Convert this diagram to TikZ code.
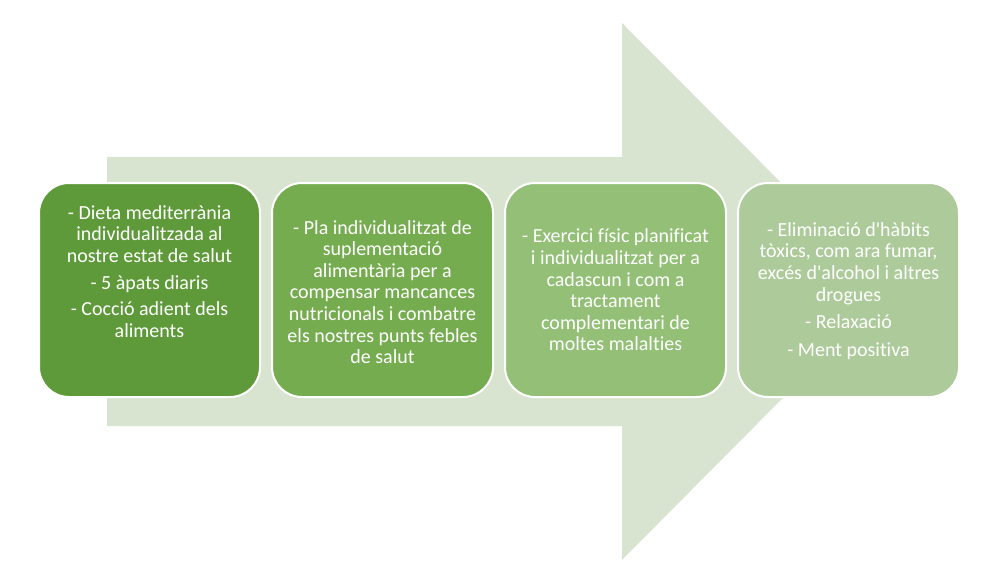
\documentclass[tikz,border=0pt]{standalone}
\usepackage{fontspec}
\setmainfont{Carlito}[Ligatures=NoCommon]
\usepackage{xcolor}
\usepackage{tikz}
\usetikzlibrary{positioning}
\definecolor{arrowbg}{HTML}{D8E4CF}
\definecolor{stepA}{HTML}{5F9A3A}
\definecolor{stepB}{HTML}{76AC50}
\definecolor{stepC}{HTML}{93BF77}
\definecolor{stepD}{HTML}{ADCB9A}
\tikzset{
  StepBox/.style={
    draw=white, line width=2pt,
    rounded corners=30pt,
    minimum width=221pt, minimum height=214pt,
    inner sep=0pt
  },
  StepText/.style={
    text=white, align=center,
    font=\fontsize{20}{21.6}\selectfont
  }
}

\begin{document}
\begin{tikzpicture}[x=1pt, y=-1pt, line join=round]
  \useasboundingbox (0,0) rectangle (1000,580);

  % big arrow behind the steps
  \fill[arrowbg] (107,157) -- (622,157) -- (622,23) -- (889,291)
    -- (622,560) -- (622,426) -- (107,426) -- cycle;

  % step boxes
  \node[StepBox, fill=stepA] (b1) at (149.5,290) {};
  \node[StepBox, fill=stepB] (b2) at (382.5,290) {};
  \node[StepBox, fill=stepC] (b3) at (615.5,290) {};
  \node[StepBox, fill=stepD] (b4) at (848.5,290) {};

  % texts
  \node[StepText] (t1) at ([yshift=18.5pt]b1.center) {- Dieta mediterrània\\individualitzada al\\nostre estat de salut\\[5pt]- 5 àpats diaris\\[5pt]- Cocció adient dels\\aliments};
  \node[StepText] (t2) at ([yshift=-2pt]b2.center) {- Pla individualitzat de\\suplementació\\alimentària per a\\compensar mancances\\nutricionals i combatre\\els nostres punts febles\\de salut};
  \node[StepText] (t3) at (b3.center) {- Exercici físic planificat\\i individualitzat per a\\cadascun i com a\\tractament\\complementari de\\moltes malalties};
  \node[StepText] (t4) at ([yshift=-1pt]b4.center) {- Eliminació d\textquotesingle hàbits\\tòxics, com ara fumar,\\excés d\textquotesingle alcohol i altres\\drogues\\[6pt]- Relaxació\\[6pt]- Ment positiva};
\end{tikzpicture}
\end{document}
